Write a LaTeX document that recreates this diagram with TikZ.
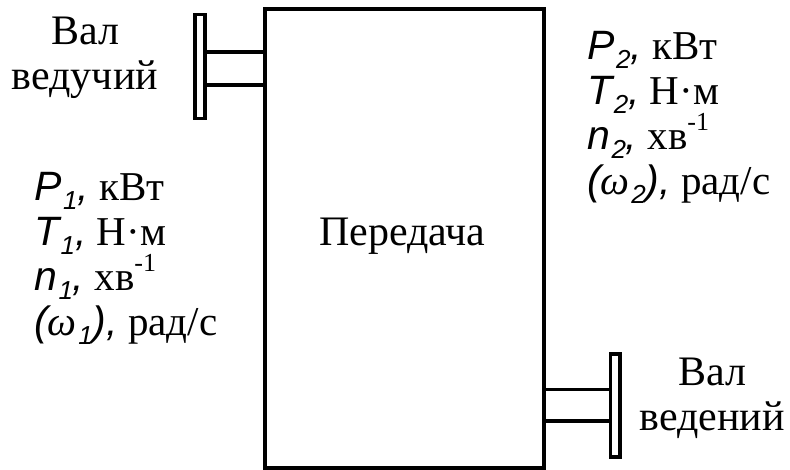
\documentclass[tikz,border=0pt]{standalone}
\usepackage{fontspec}
\setmainfont{Liberation Serif}
\newfontfamily\arialf{Liberation Sans}
\newcommand{\lsub}[1]{\kern1.5pt\raisebox{-0.2em}{\fontsize{26}{26}\selectfont #1}}
\newcommand{\lsup}[1]{\raisebox{0.48em}{\fontsize{26}{26}\selectfont #1}}
\begin{document}
\begin{tikzpicture}[x=1pt,y=-1pt,
  body/.style={draw, line width=3.5pt, inner sep=0pt},
  shaftline/.style={line width=3.5pt},
  lbl/.style={anchor=base west, inner sep=0pt, font=\fontsize{41}{45}\selectfont},
  captext/.style={anchor=base, inner sep=0pt, font=\fontsize{42}{45}\selectfont},
]
\useasboundingbox (0,0) rectangle (790,470);
\node[body, minimum width=279pt, minimum height=459pt] (box) at (404.5,238.5) {};
\node[body, minimum width=10pt, minimum height=104pt] (lfl) at (200,66.7) {};
\node[body, minimum width=9.5pt, minimum height=103pt] (rfl) at (615,405.7) {};
\coordinate (l1) at (0,52);
\coordinate (l2) at (0,85);
\coordinate (r1) at (0,389.5);
\coordinate (r2) at (0,421);
\draw[shaftline] (lfl.east |- l1) -- (box.west |- l1);
\draw[shaftline] (lfl.east |- l2) -- (box.west |- l2);
\draw[shaftline] (box.east |- r1) -- (rfl.west |- r1);
\draw[shaftline] (box.east |- r2) -- (rfl.west |- r2);
\node[captext] (t0) at (402.5,246) {Передача};
\node[captext] (a1) at (85,45) {Вал};
\node[captext] (a2) at (85,90) {ведучий};
\node[captext] (b1) at (712,385) {Вал};
\node[captext] (b2) at (712,430) {ведений};
\node[lbl] (p1) at (34,201) {{\arialf\itshape P\lsub{1},} кВт};
\node[lbl] (q1) at (34,246) {{\arialf\itshape T\lsub{1},} Н·м};
\node[lbl] (m1) at (34,291) {{\arialf\itshape n\lsub{1},} хв\lsup{-1}};
\node[lbl] (w1) at (34,336) {{\arialf\itshape (}{\itshape ω}{\arialf\itshape\lsub{1}),} рад/с};
\node[lbl] (p2) at (587,60) {{\arialf\itshape P\lsub{2},} кВт};
\node[lbl] (q2) at (587,105) {{\arialf\itshape T\lsub{2},} Н·м};
\node[lbl] (m2) at (587,150) {{\arialf\itshape n\lsub{2},} хв\lsup{-1}};
\node[lbl] (w2) at (587,195) {{\arialf\itshape (}{\itshape ω}{\arialf\itshape\lsub{2}),} рад/с};
\end{tikzpicture}
\end{document}
